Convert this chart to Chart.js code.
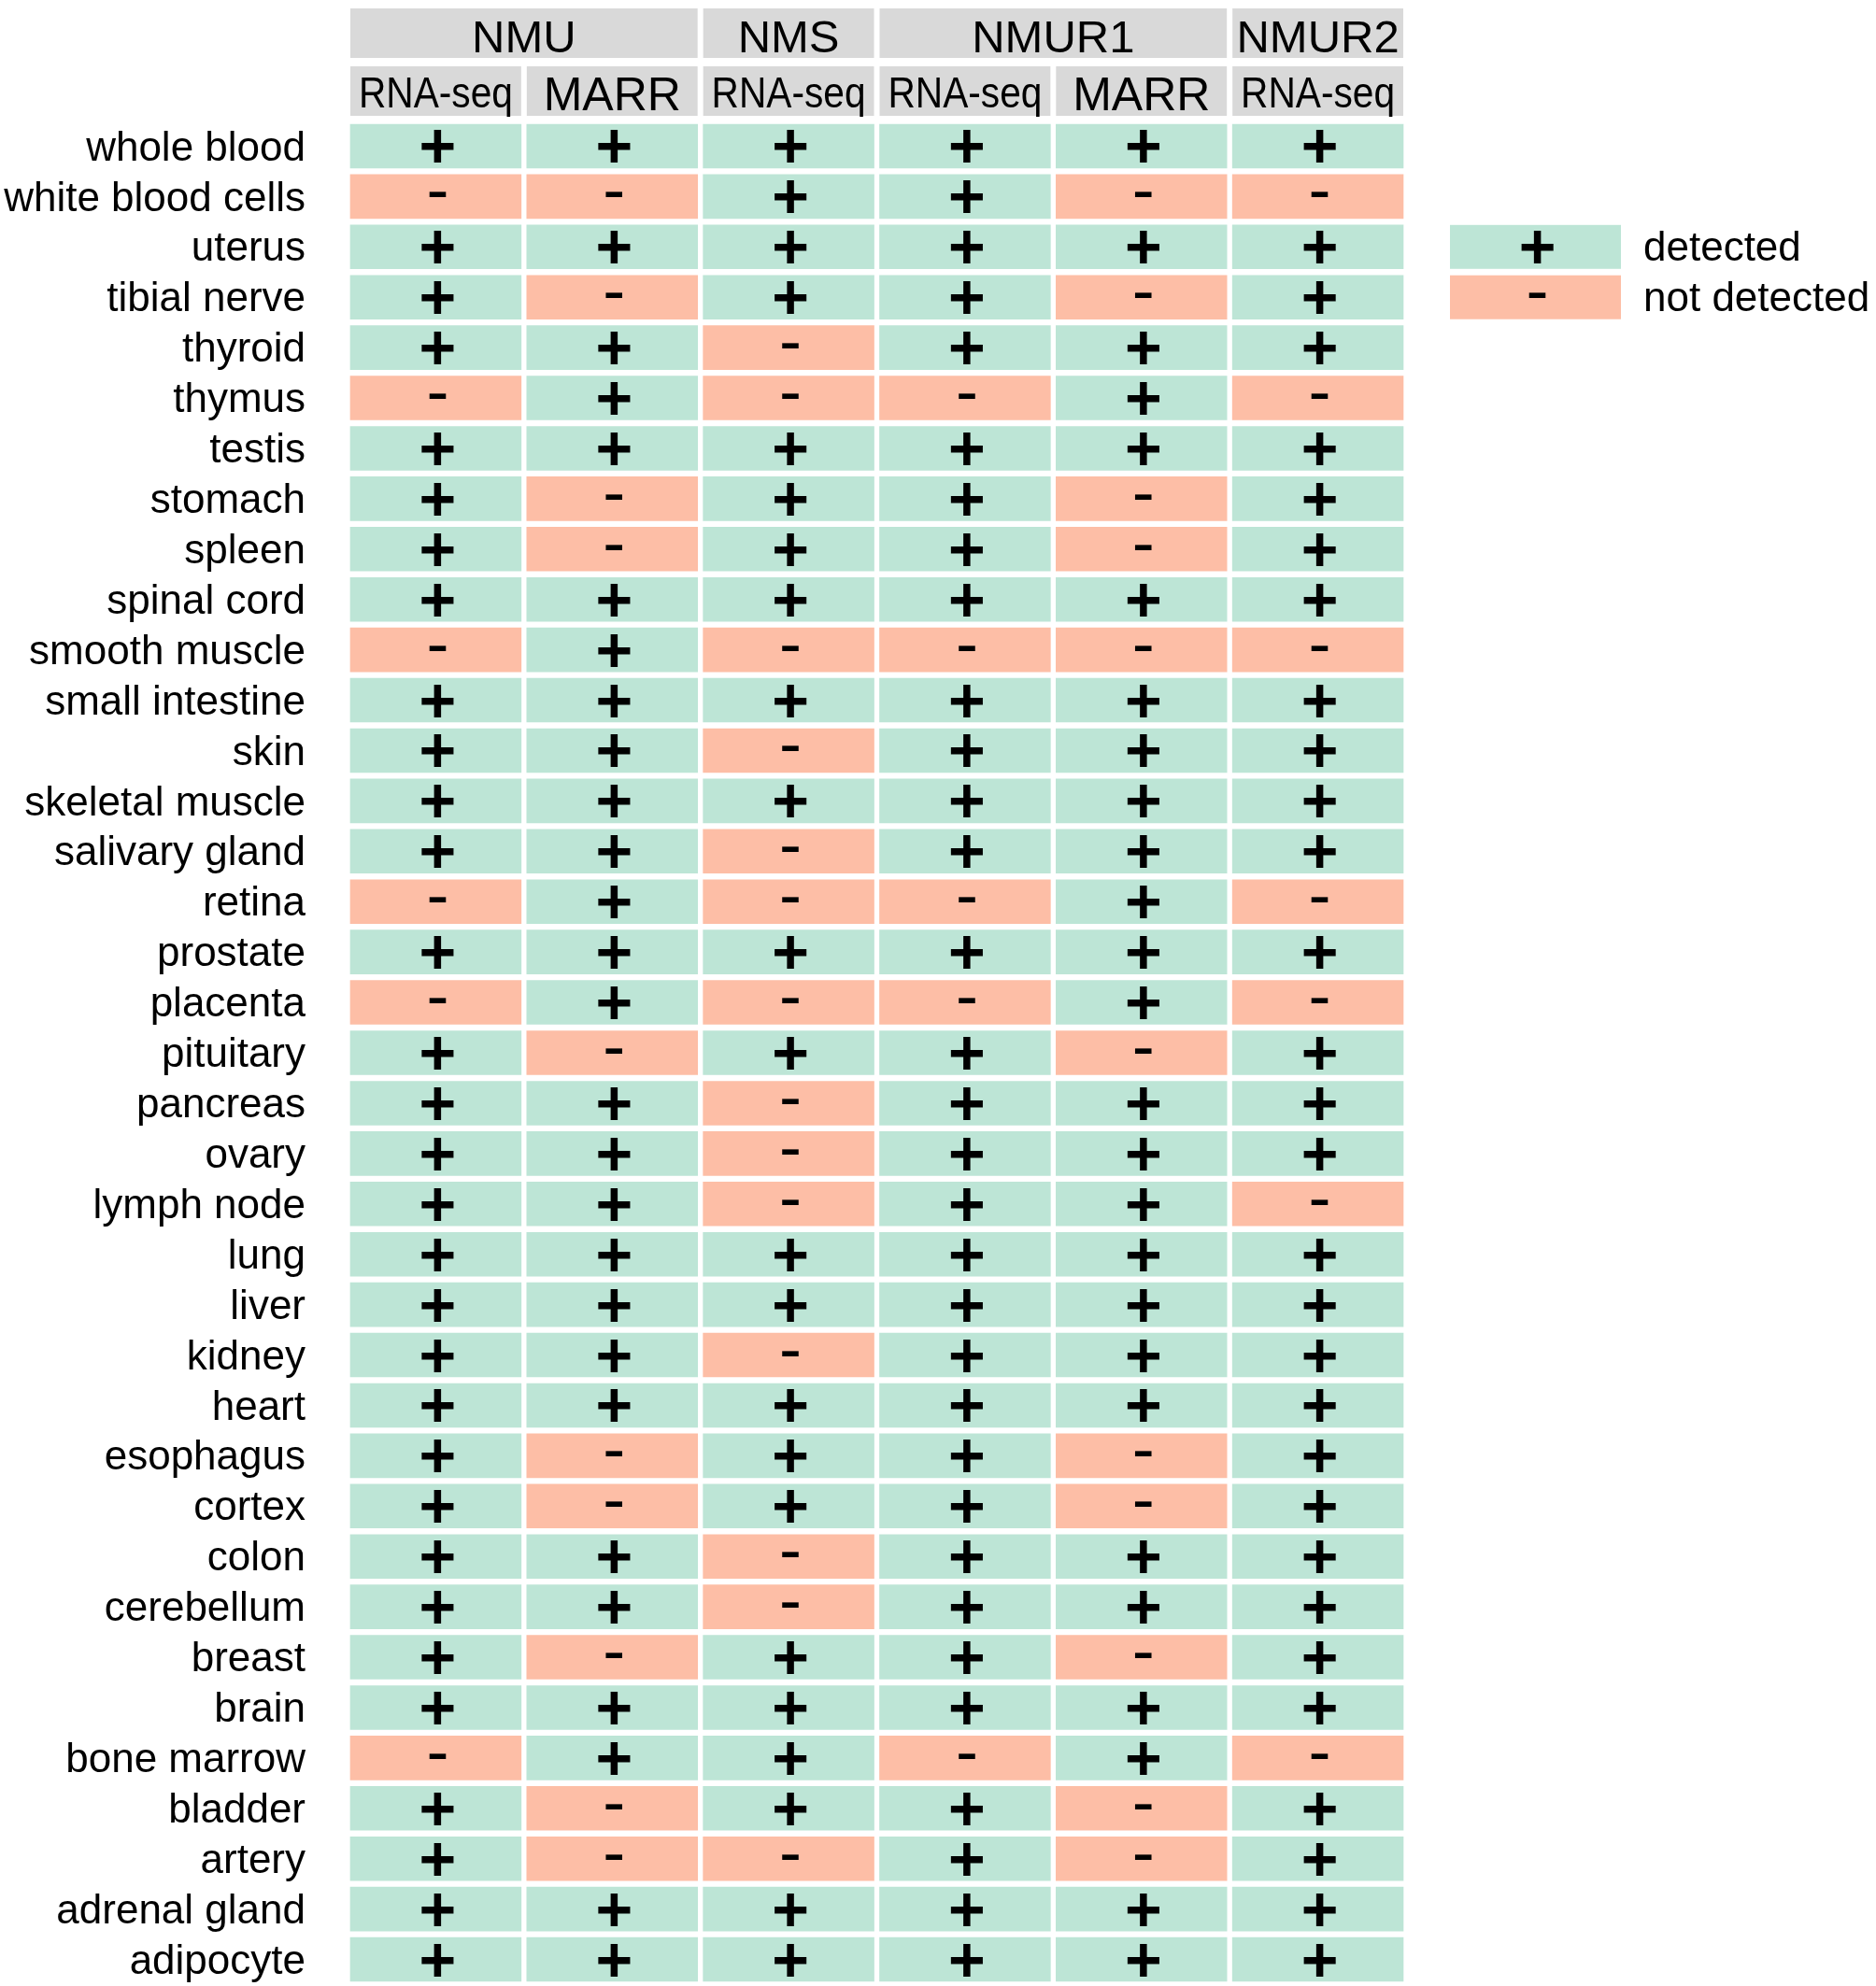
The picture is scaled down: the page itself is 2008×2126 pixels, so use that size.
<!DOCTYPE html>
<html>
<head>
<meta charset="utf-8">
<script src="https://cdn.jsdelivr.net/npm/chart.js@4.4.0/dist/chart.umd.min.js"></script>
<style>
html,body{margin:0;padding:0;background:#ffffff;overflow:hidden;}
#c{display:block;width:2008px;height:2126px;}
</style>
</head>
<body>
<canvas id="c" width="2008" height="2126"></canvas>
<script>
// ---------- data ----------
const tissues = ['whole blood','white blood cells','uterus','tibial nerve','thyroid','thymus','testis','stomach','spleen','spinal cord','smooth muscle','small intestine','skin','skeletal muscle','salivary gland','retina','prostate','placenta','pituitary','pancreas','ovary','lymph node','lung','liver','kidney','heart','esophagus','cortex','colon','cerebellum','breast','brain','bone marrow','bladder','artery','adrenal gland','adipocyte'];
const genes = ['NMU','NMS','NMUR1','NMUR2'];
const geneSpans = [2,1,2,1];
const methods = ['RNA-seq','MARR','RNA-seq','RNA-seq','MARR','RNA-seq'];
// 1 = detected (+), 0 = not detected (-)
const nmuRnaseq   = [1,0,1,1,1,0,1,1,1,1,0,1,1,1,1,0,1,0,1,1,1,1,1,1,1,1,1,1,1,1,1,1,0,1,1,1,1];
const nmuMarr     = [1,0,1,0,1,1,1,0,0,1,1,1,1,1,1,1,1,1,0,1,1,1,1,1,1,1,0,0,1,1,0,1,1,0,0,1,1];
const nmsRnaseq   = [1,1,1,1,0,0,1,1,1,1,0,1,0,1,0,0,1,0,1,0,0,0,1,1,0,1,1,1,0,0,1,1,1,1,0,1,1];
const nmur1Rnaseq = [1,1,1,1,1,0,1,1,1,1,0,1,1,1,1,0,1,0,1,1,1,1,1,1,1,1,1,1,1,1,1,1,0,1,1,1,1];
const nmur1Marr   = [1,0,1,0,1,1,1,0,0,1,0,1,1,1,1,1,1,1,0,1,1,1,1,1,1,1,0,0,1,1,0,1,1,0,0,1,1];
const nmur2Rnaseq = [1,0,1,1,1,0,1,1,1,1,0,1,1,1,1,0,1,0,1,1,1,0,1,1,1,1,1,1,1,1,1,1,0,1,1,1,1];
const legendLabels = ['detected','not detected'];
const signs = ['-','+'];

// ---------- styles ----------
const GREEN = '#bde5d6';
const SALMON = '#fdbea6';
const GREY = '#d9d9d9';
const FONT = "'Liberation Sans', Arial, Helvetica, sans-serif";

const columns = [nmuRnaseq, nmuMarr, nmsRnaseq, nmur1Rnaseq, nmur1Marr, nmur2Rnaseq];

const datasets = columns.map((vals, c) => ({
  label: methods[c],
  data: vals.map(() => [c, c + 1]),
  backgroundColor: vals.map(v => v ? GREEN : SALMON),
  borderColor: '#ffffff',
  borderWidth: {left: 3, right: 3, top: 3.5, bottom: 3.5},
  borderSkipped: false,
  grouped: false,
  barPercentage: 1,
  categoryPercentage: 1
}));

function drawSign(ctx, s, cx, cy) {
  ctx.fillStyle = '#000000';
  ctx.textAlign = 'center';
  ctx.textBaseline = 'alphabetic';
  if (s === '+') {
    ctx.font = 'bold 68px ' + FONT;
    ctx.fillText(s, cx + 2, cy + 23);
  } else {
    ctx.font = '72px ' + FONT;
    ctx.fillText(s, cx + 2, cy + 17);
  }
}

const overlay = {
  id: 'overlay',
  afterDatasetsDraw(chart) {
    const {ctx, chartArea} = chart;
    const xs = chart.scales.x, ys = chart.scales.y;
    ctx.save();
    // signs in cells
    columns.forEach((vals, c) => {
      const cx = xs.getPixelForValue(c + 0.5);
      vals.forEach((v, r) => drawSign(ctx, signs[v], cx, ys.getPixelForValue(r)));
    });
    // header boxes
    const topY = chartArea.top - 120.5, subY = chartArea.top - 58.5, h = 53;
    let start = 0;
    genes.forEach((g, i) => {
      const x0 = xs.getPixelForValue(start) + 3;
      const x1 = xs.getPixelForValue(start + geneSpans[i]) - 3;
      ctx.fillStyle = GREY;
      ctx.fillRect(x0, topY, x1 - x0, h);
      ctx.fillStyle = '#000000';
      ctx.font = '49px ' + FONT;
      ctx.textAlign = 'center';
      ctx.textBaseline = 'alphabetic';
      ctx.fillText(g, (x0 + x1) / 2, topY + 47, x1 - x0 - 2);
      start += geneSpans[i];
    });
    methods.forEach((m, c) => {
      const x0 = xs.getPixelForValue(c) + 3;
      const x1 = xs.getPixelForValue(c + 1) - 3;
      ctx.fillStyle = GREY;
      ctx.fillRect(x0, subY, x1 - x0, h);
      ctx.fillStyle = '#000000';
      ctx.textAlign = 'center';
      ctx.textBaseline = 'alphabetic';
      if (m === 'MARR') {
        ctx.font = '50px ' + FONT;
        ctx.fillText(m, (x0 + x1) / 2, subY + 47);
      } else {
        ctx.font = '46px ' + FONT;
        ctx.fillText(m, (x0 + x1) / 2, subY + 44, 165);
      }
    });
    // legend
    const lx0 = chartArea.right + 47, lw = 183, lh = 47;
    legendLabels.forEach((lab, i) => {
      const cy = ys.getPixelForValue(2 + i);
      ctx.fillStyle = i === 0 ? GREEN : SALMON;
      ctx.fillRect(lx0, cy - lh / 2, lw, lh);
      drawSign(ctx, signs[1 - i], lx0 + lw / 2, cy);
      ctx.fillStyle = '#000000';
      ctx.font = '44px ' + FONT;
      ctx.textAlign = 'left';
      ctx.textBaseline = 'middle';
      ctx.fillText(lab, lx0 + lw + 24, cy + 3);
    });
    ctx.restore();
  }
};

new Chart(document.getElementById('c'), {
  type: 'bar',
  data: {labels: tissues, datasets: datasets},
  options: {
    indexAxis: 'y',
    responsive: false,
    maintainAspectRatio: false,
    animation: false,
    devicePixelRatio: 1,
    layout: {padding: {top: 129.5, right: 503, bottom: 1.5, left: 0}},
    plugins: {legend: {display: false}, tooltip: {enabled: false}, title: {display: false}},
    scales: {
      x: {type: 'linear', min: 0, max: 6, display: false},
      y: {
        type: 'category',
        offset: true,
        grid: {display: false, drawTicks: false, tickLength: 0},
        border: {display: false},
        ticks: {font: {family: FONT, size: 44}, color: '#000000', padding: 45, labelOffset: 3, autoSkip: false},
        afterFit: s => { s.width = 372; s.paddingTop = 0; s.paddingBottom = 0; }
      }
    }
  },
  plugins: [overlay]
});
</script>
</body>
</html>
